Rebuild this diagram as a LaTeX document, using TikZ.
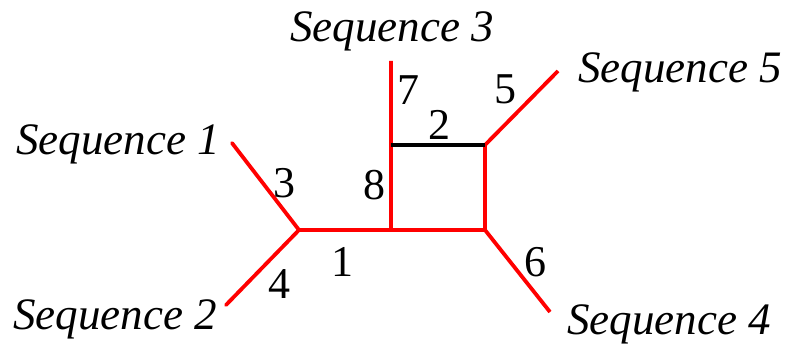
\documentclass[tikz,border=0pt]{standalone}
\usepackage{fontspec}
\setmainfont{Liberation Serif}
\begin{document}
\begin{tikzpicture}[x=1pt,y=-1pt,
  redline/.style={draw=red,line width=3.8pt},
  blackline/.style={draw=black,line width=3.5pt},
  seqlabel/.style={anchor=base west,inner sep=0pt,font=\fontsize{45}{54}\selectfont\itshape},
  numlabel/.style={anchor=center,inner sep=0pt,font=\fontsize{44}{52}\selectfont}]
\useasboundingbox (0,0) rectangle (788,347);
% junctions
\coordinate (jl) at (299,230);
\coordinate (bl) at (391,230);
\coordinate (tl) at (391,145);
\coordinate (tr) at (485,145);
\coordinate (br) at (485,230);
% free ends
\coordinate (e1) at (232,143);
\coordinate (e2) at (226,305);
\coordinate (e3) at (391,61);
\coordinate (e5) at (558,71);
\coordinate (e4) at (550,312);
% edges
\draw[redline,line cap=round] (e1) -- (jl);
\draw[redline,line cap=round] (e2) -- (jl);
\draw[redline] (jl) -- (bl);
\draw[redline] (e3) -- (tl) -- (bl) -- (br) -- (tr) -- (e5);
\draw[redline] (br) -- (e4);
\draw[blackline] (tl) -- (tr);
% sequence labels
\node[seqlabel] (s1) at (16,155) {Sequence 1};
\node[seqlabel] (s2) at (13,330) {Sequence 2};
\node[seqlabel] (s3) at (290,42) {Sequence 3};
\node[seqlabel] (s5) at (578,83) {Sequence 5};
\node[seqlabel] (s4) at (567,335) {Sequence 4};
% edge numbers
\node[numlabel] (n3) at (284,183) {3};
\node[numlabel] (n4) at (279,284) {4};
\node[numlabel] (n1) at (342,262) {1};
\node[numlabel] (n8) at (374,185) {8};
\node[numlabel] (n7) at (408,90) {7};
\node[numlabel] (n2) at (439,125) {2};
\node[numlabel] (n5) at (505,89) {5};
\node[numlabel] (n6) at (535,262) {6};
\end{tikzpicture}
\end{document}
